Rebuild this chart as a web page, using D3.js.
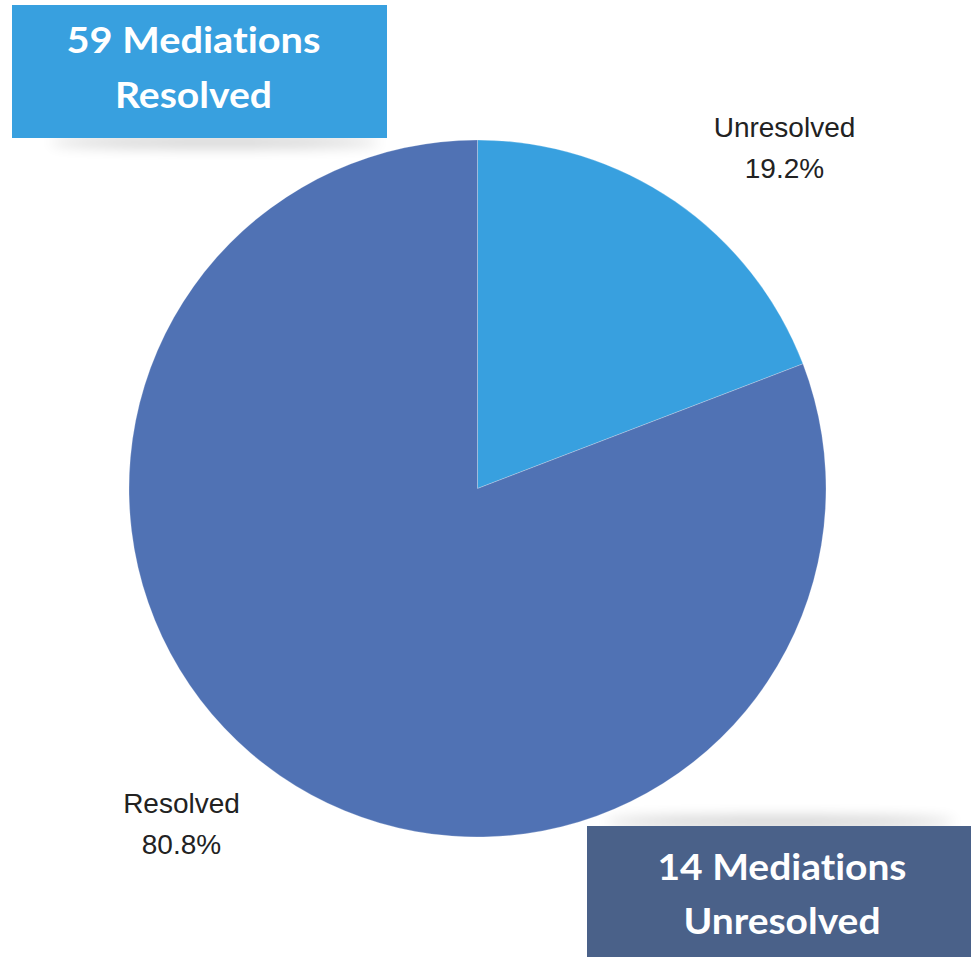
<!DOCTYPE html>
<html>
<head>
<meta charset="utf-8">
<script src="https://cdn.jsdelivr.net/npm/d3@7"></script>
<style>
  html, body { margin: 0; padding: 0; background: #fff; }
  svg { display: block; }
  text { font-variant-ligatures: none; font-feature-settings: "liga" 0, "clig" 0; }
</style>
</head>
<body>
<svg id="chart" width="971" height="957"></svg>
<script>
const categories = ["Unresolved", "Resolved"];
const values = [14, 59];
const percentLabels = ["19.2%", "80.8%"];
const colors = ["#38a0df", "#5072b4"];
const calloutLines = [["59 Mediations", "Resolved"], ["14 Mediations", "Unresolved"]];

const svg = d3.select("#chart");
const defs = svg.append("defs");
const blur = defs.append("filter").attr("id", "soft").attr("x", "-30%").attr("y", "-400%").attr("width", "160%").attr("height", "900%");
blur.append("feGaussianBlur").attr("stdDeviation", 7);

const cx = 477.5, cy = 488.5, r = 348.5;

const data = categories.map((c, i) => ({ cat: c, value: values[i], pct: percentLabels[i], color: colors[i] }));
const pie = d3.pie().value(d => d.value).sort(null);
const arc = d3.arc().innerRadius(0).outerRadius(r);

const g = svg.append("g").attr("transform", `translate(${cx},${cy})`);
g.selectAll("path").data(pie(data)).join("path")
  .attr("d", arc)
  .attr("fill", d => d.data.color)
  .attr("stroke", "#ffffff")
  .attr("stroke-opacity", 0.4)
  .attr("stroke-width", 0.6);

// slice labels
const labelPos = [{ x: 784.5, y: 137 }, { x: 181.5, y: 813 }];
data.forEach((d, i) => {
  const t = svg.append("text")
    .attr("x", labelPos[i].x).attr("y", labelPos[i].y)
    .attr("text-anchor", "middle")
    .attr("font-family", "Liberation Sans, Arial, sans-serif")
    .attr("font-size", 28)
    .attr("fill", "#222");
  t.append("tspan").attr("x", labelPos[i].x).text(d.cat);
  t.append("tspan").attr("x", labelPos[i].x).attr("dy", 41).text(d.pct);
});

// callout boxes
const boxes = [
  { x: 12, y: 5, w: 375, h: 133, fill: "#38a0df", shadowY: 142, shadowX: 50, shadowW: 330, tx: 193.5, ty: [53, 108], tw: [254, 157] },
  { x: 587, y: 826, w: 384, h: 131, fill: "#4a6189", shadowY: 822, shadowX: 605, shadowW: 350, tx: 782, ty: [880, 934], tw: [249, 197] }
];
boxes.forEach((b, i) => {
  svg.append("ellipse")
    .attr("cx", b.shadowX + b.shadowW / 2).attr("cy", b.shadowY)
    .attr("rx", b.shadowW / 2).attr("ry", 5)
    .attr("fill", "#000").attr("opacity", 0.22)
    .attr("filter", "url(#soft)");
  svg.append("rect").attr("x", b.x).attr("y", b.y).attr("width", b.w).attr("height", b.h).attr("fill", b.fill);
  calloutLines[i].forEach((line, j) => {
    svg.append("text")
      .attr("x", b.tx).attr("y", b.ty[j])
      .attr("text-anchor", "middle")
      .attr("font-family", "Lato, 'Open Sans', sans-serif")
      .attr("font-weight", 700)
      .attr("font-size", 36)
      .attr("fill", "#ffffff")
      .attr("textLength", b.tw[j])
      .attr("lengthAdjust", "spacingAndGlyphs")
      .text(line);
  });
});
</script>
</body>
</html>
